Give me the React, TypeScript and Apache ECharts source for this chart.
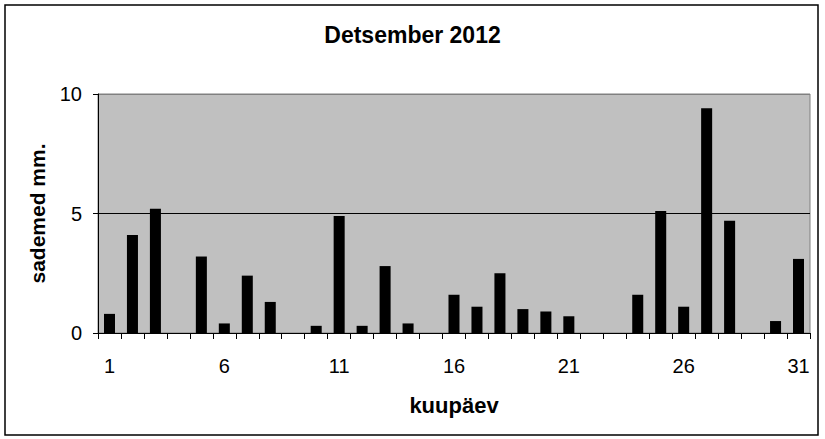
import React, { useEffect, useRef } from "react";
import * as echarts from "echarts";

const days: string[] = Array.from({ length: 31 }, (_, i) => String(i + 1));
const precipitation: number[] = [
  0.8, 4.1, 5.2, 0, 3.2, 0.4, 2.4, 1.3, 0, 0.3,
  4.9, 0.3, 2.8, 0.4, 0, 1.6, 1.1, 2.5, 1.0, 0.9,
  0.7, 0, 0, 1.6, 5.1, 1.1, 9.4, 4.7, 0, 0.5, 3.1,
];
const titleText = "Detsember 2012";
const xName = "kuupäev";
const yName = "sademed mm.";

const FONT = "'Liberation Sans', Arial, sans-serif";

export default function App() {
  const ref = useRef<HTMLDivElement>(null);
  useEffect(() => {
    if (!ref.current) return;
    const chart = echarts.init(ref.current, undefined, { renderer: "svg" });
    chart.setOption({
      animation: false,
      backgroundColor: "#ffffff",
      textStyle: { fontFamily: FONT },
      title: {
        text: titleText,
        left: "center",
        top: 23,
        padding: 0,
        textStyle: { fontFamily: FONT, fontSize: 23, fontWeight: "bold", color: "#000" },
      },
      graphic: [
        {
          type: "rect",
          shape: { x: 5, y: 5, width: 813, height: 430 },
          style: { fill: "none", stroke: "#000", lineWidth: 1.5 },
          z: 100,
        },
      ],
      grid: {
        left: 98,
        right: 15,
        top: 94,
        bottom: 106,
        show: true,
        backgroundColor: "#C0C0C0",
        borderColor: "#808080",
        borderWidth: 1,
      },
      xAxis: {
        type: "category",
        data: days,
        boundaryGap: true,
        name: xName,
        nameLocation: "middle",
        nameGap: 61,
        nameTextStyle: { fontFamily: FONT, fontSize: 22, fontWeight: "bold", color: "#000" },
        axisLine: { show: true, lineStyle: { color: "#000", width: 1 } },
        axisTick: { show: true, interval: 0, length: 6, inside: false, lineStyle: { color: "#000" } },
        axisLabel: { interval: 4, fontSize: 20, color: "#000", margin: 23, fontFamily: FONT },
        splitLine: { show: false },
      },
      yAxis: {
        type: "value",
        min: 0,
        max: 10,
        interval: 5,
        name: yName,
        nameLocation: "middle",
        nameRotate: 90,
        nameGap: 50,
        nameTextStyle: { fontFamily: FONT, fontSize: 21, fontWeight: "bold", color: "#000" },
        axisLine: { show: true, lineStyle: { color: "#000", width: 1 } },
        axisTick: { show: true, length: 5, inside: false, lineStyle: { color: "#000" } },
        axisLabel: { fontSize: 20, color: "#000", margin: 16, fontFamily: FONT },
        splitLine: { show: true, lineStyle: { color: ["#000", "#000", "#808080"], width: 1 } },
      },
      series: [
        {
          type: "bar",
          data: precipitation,
          barWidth: "48%",
          itemStyle: { color: "#000" },
        },
      ],
    });
    return () => chart.dispose();
  }, []);
  return (
    <div
      ref={ref}
      style={{ position: "fixed", left: 0, top: 0, width: 825, height: 439 }}
    />
  );
}
